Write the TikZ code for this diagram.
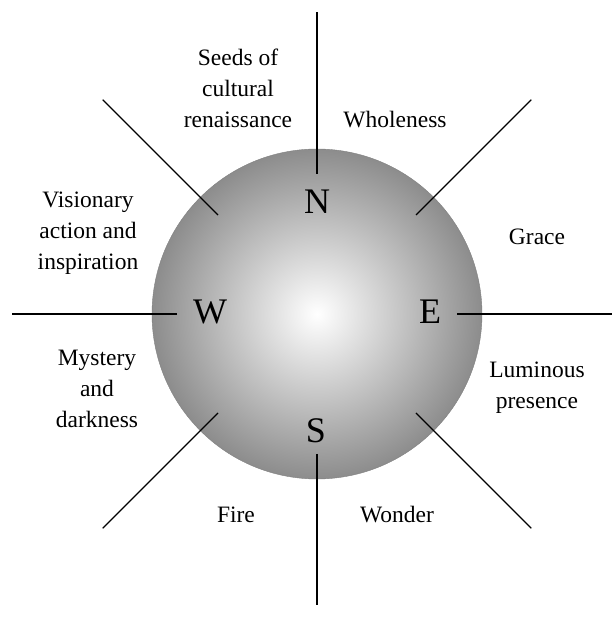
\documentclass[tikz,border=0pt]{standalone}
\usepackage{fontspec}
\setmainfont{Liberation Serif}
\begin{document}
\begin{tikzpicture}[
  x=1pt,y=1pt,
  globe/.style={circle,minimum size=330pt,inner sep=0pt,draw=black!50,line width=0.4pt,
    inner color=white,outer color=black!45},
  point/.style={inner sep=0pt,font=\fontsize{36}{36}\selectfont},
  quality/.style={inner sep=0pt,align=center,font=\fontsize{23.5}{31}\selectfont},
  spoke/.style={line width=1.3pt},
]
\useasboundingbox (0,0) rectangle (612,621);
\node[globe] (globe) at (317,307) {};
% compass points
\node[point] (north) at (317,419) {N};
\node[point] (west) at (210,309) {W};
\node[point] (east) at (430,309) {E};
\node[point] (south) at (316,190) {S};
% spokes
\foreach \a/\r in {0/300,45/303,90/302,135/303,180/305,225/303,270/291,315/303} {
  \path (globe.center) ++(\a:140) coordinate (in\a)
        (globe.center) ++(\a:\r) coordinate (out\a);
  \draw[spoke] (in\a) -- (out\a);
}
% qualities
\node[quality] (seeds) at (238,533) {Seeds of\\cultural\\renaissance};
\node[quality] (wholeness) at (395,501) {Wholeness};
\node[quality] (grace) at (537,384) {Grace};
\node[quality] (luminous) at (537,233) {Luminous\\presence};
\node[quality] (wonder) at (397,106) {Wonder};
\node[quality] (fire) at (236,106) {Fire};
\node[quality] (mystery) at (97,232) {Mystery\\and\\darkness};
\node[quality] (visionary) at (88,388) {Visionary\\action and\\inspiration};
\end{tikzpicture}
\end{document}
